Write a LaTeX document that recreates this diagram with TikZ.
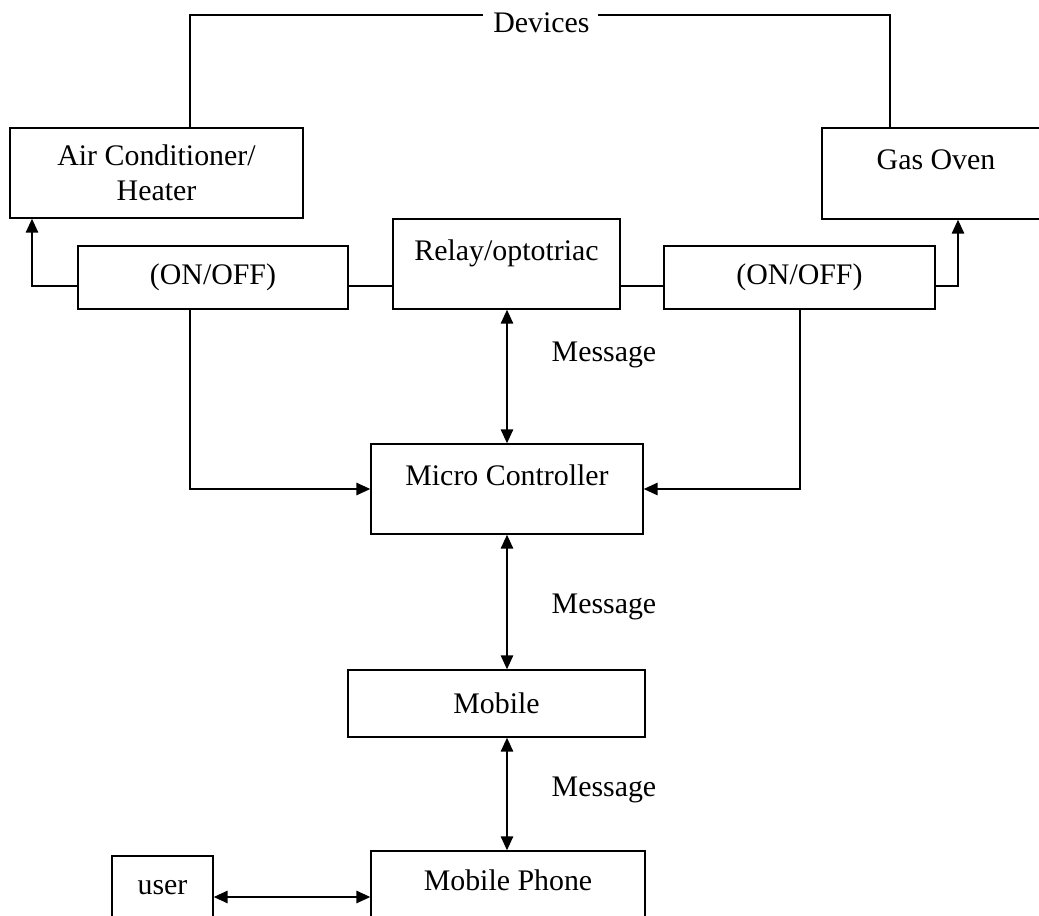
\documentclass[tikz,border=0pt]{standalone}
\usepackage{fontspec}
\setmainfont{Liberation Serif}
\usetikzlibrary{arrows.meta}

\tikzset{
  box/.style={draw, line width=0.85pt, align=center, inner sep=0pt},
  arr/.style={-{Triangle[length=0.28cm,width=0.25cm]}},
  dbl/.style={{Triangle[length=0.28cm,width=0.25cm]}-{Triangle[length=0.28cm,width=0.25cm]}}
}

\begin{document}
\begin{tikzpicture}[x=0.02cm, y=-0.02cm, line width=0.85pt,
    font=\fontsize{17}{20}\selectfont]

          \useasboundingbox (0,0) rectangle (1039,916);
          \clip (0,0) rectangle (1039,916);

          % track coordinates
          \coordinate (dy) at (0,15);
          \coordinate (ly) at (0,286);
          \coordinate (uy) at (0,897);
          \coordinate (lx) at (32,0);
          \coordinate (rx) at (958,0);
          \coordinate (acx) at (190,0);
          \coordinate (gax) at (890,0);
          \coordinate (fbl) at (190,0);
          \coordinate (fbr) at (800,0);

          % Devices on top
          \node (dev) at (541.5,23) {Devices};

          % device boxes
          \node[box, minimum width=5.86cm, minimum height=1.8cm] (ac) at (156.5,173) {Air Conditioner/\\Heater};
          \node[box, minimum width=4.56cm, minimum height=1.82cm] (gas) at (936,173.5) {Gas Oven\\[-10pt]\strut};

          % switch row
          \node[box, minimum width=5.4cm, minimum height=1.26cm] (onl) at (213,277.5) {(ON/OFF)};
          \node[box, minimum width=4.54cm, minimum height=1.8cm] (relay) at (506.5,264) {Relay/optotriac\\[-10pt]\strut};
          \node[box, minimum width=5.42cm, minimum height=1.26cm] (onr) at (799.5,277.5) {(ON/OFF)};

          % controller and mobile
          \node[box, minimum width=5.44cm, minimum height=1.8cm] (mc) at (507,489) {Micro Controller\\[-10pt]\strut};
          \node[box, minimum width=5.94cm, minimum height=1.34cm] (mob) at (496.5,703.5) {Mobile};
          \node[box, minimum width=5.48cm, minimum height=1.78cm] (mp) at (508,895.5) {Mobile Phone\\[-8pt]\strut};
          \node[box, minimum width=2.02cm, minimum height=1.68cm] (user) at (162.5,898) {user\\[-14pt]\strut};

          % message labels
          \node (m1) at (604,355) {Message};
          \node (m2) at (604,607) {Message};
          \node (m3) at (604,790) {Message};

          % devices line
          \draw (ac.north -| acx) |- ([xshift=-2pt]dev.west |- dy);
          \draw (gas.north -| gax) |- ([xshift=1pt]dev.east |- dy);

          % switches to devices
          \draw[arr] (onl.west |- ly) -| (ac.south -| lx);
          \draw[arr] (onr.east |- ly) -| (gas.south -| rx);
          \draw (onl.east |- ly) -- (relay.west |- ly);
          \draw (relay.east |- ly) -- (onr.west |- ly);

          % feedback to controller
          \draw[arr] (onl.south -| fbl) |- (mc.west);
          \draw[arr] (onr.south -| fbr) |- (mc.east);

          % messages
          \draw[dbl] (relay.south -| mc.north) -- (mc.north);
          \draw[dbl] (mc.south) -- (mc.south |- mob.north);
          \draw[dbl] (mc.south |- mob.south) -- (mc.south |- mp.north);
          \draw[dbl] (user.east |- uy) -- (mp.west |- uy);

      \end{tikzpicture}
\end{document}
